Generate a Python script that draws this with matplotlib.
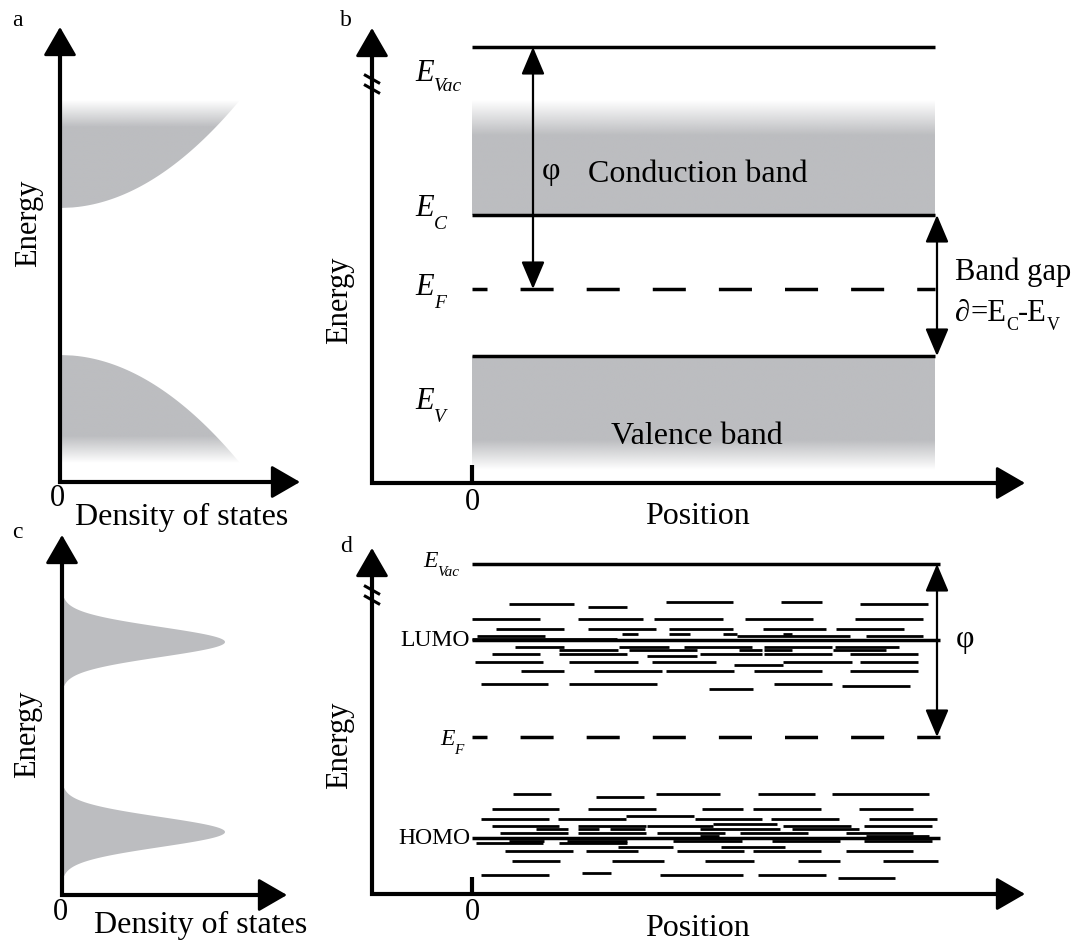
import numpy as np
import matplotlib
matplotlib.use('Agg')
import matplotlib.pyplot as plt
from matplotlib.patches import Polygon
from matplotlib.collections import LineCollection
from matplotlib.colors import to_rgb

plt.rcParams['font.family'] = ['Liberation Serif', 'DejaVu Serif']
plt.rcParams['lines.scale_dashes'] = False

W, H = 1080, 943
GRAY = '#bcbdc0'

# ---------------- data (energy / position in arbitrary units) ----------------
# a: band-like density of states (sqrt model)
cb_edge, cb_top = 2.74, 3.82
vb_edge, vb_bottom = 1.27, 0.19
dos_max = 1.80
dos_fade = 0.27

# b: band diagram levels
b_names = ['Vac', 'C', 'F', 'V']
b_energy = [4.36, 2.68, 1.94, 1.27]
band_right = 4.63
cb_fill_top, cb_fill_fade = 3.83, 3.48
vb_fill_bottom, vb_fill_fade = 0.13, 0.43
phi_x_b = 0.61
gap_x = 4.65

# c: gaussian density of states
gauss_centers = [2.53, 0.63]
gauss_peak = 1.63
gauss_sigma = 0.15
gauss_cut = 0.44

# d: organic levels
d_names = ['Vac', 'LUMO', 'F', 'HOMO']
d_energy = [3.30, 2.54, 1.57, 0.56]
level_right = 4.68
phi_x_d = 4.65

# localized states around LUMO: (offset from LUMO, [(x0, x1), ...])
lumo_states = [
    (0.38, [(1.94, 2.61), (3.09, 3.50)]),
    (0.36, [(0.37, 1.02), (3.88, 4.56)]),
    (0.33, [(1.16, 1.55)]),
    (0.21, [(0.00, 0.68), (1.06, 1.71), (1.82, 2.51), (2.73, 3.41), (3.83, 4.51)]),
    (0.11, [(0.24, 0.92), (1.16, 1.84), (1.97, 2.61), (2.91, 3.54), (3.64, 4.32)]),
    (0.06, [(1.50, 1.66), (1.97, 2.18), (2.51, 2.65), (3.11, 3.20)]),
    (0.04, [(0.05, 0.73), (2.65, 3.78), (3.94, 4.51)]),
    (0.01, [(0.00, 1.45)]),
    (-0.07, [(0.43, 0.92), (1.47, 1.97), (2.12, 2.80), (2.92, 3.60), (3.63, 4.27)]),
    (-0.10, [(0.87, 1.46), (1.57, 2.25), (2.67, 2.90), (2.92, 3.20), (3.61, 4.14)]),
    (-0.14, [(0.20, 0.68), (0.87, 1.55), (2.28, 2.90), (2.92, 3.60), (3.78, 4.46)]),
    (-0.16, [(1.75, 2.25)]),
    (-0.22, [(0.03, 0.71), (0.97, 1.66), (1.80, 2.44), (3.11, 3.80), (3.88, 4.46)]),
    (-0.25, [(2.62, 3.11)]),
    (-0.31, [(0.49, 0.92), (1.22, 1.90), (1.94, 2.62), (2.82, 3.50), (3.78, 4.46)]),
    (-0.44, [(0.09, 0.76), (0.97, 1.85), (3.02, 3.60)]),
    (-0.46, [(3.70, 4.38)]),
    (-0.49, [(2.37, 2.81)]),
]

# localized states around HOMO
homo_states = [
    (0.44, [(0.41, 0.79), (1.84, 2.48), (2.86, 3.43), (3.60, 4.57)]),
    (0.41, [(1.24, 1.72)]),
    (0.29, [(0.20, 0.87), (1.16, 1.84), (2.30, 2.71), (2.81, 3.49), (3.87, 4.41)]),
    (0.22, [(1.54, 2.22)]),
    (0.19, [(0.09, 0.77), (0.86, 1.54), (2.23, 2.90), (2.99, 3.67), (3.97, 4.65)]),
    (0.14, [(2.41, 3.05)]),
    (0.12, [(0.20, 0.87), (1.06, 1.74), (1.75, 2.41), (3.11, 3.79), (3.92, 4.60)]),
    (0.09, [(0.64, 0.96), (1.06, 1.27), (1.38, 1.73), (2.28, 3.08), (3.20, 3.87)]),
    (0.05, [(0.28, 0.96), (1.06, 1.74), (1.85, 2.53), (2.68, 3.36), (3.74, 4.41)]),
    (0.02, [(2.28, 2.47), (3.94, 4.57)]),
    (0.00, [(3.20, 3.88)]),
    (-0.03, [(0.37, 0.72), (0.95, 1.55), (2.01, 2.70), (3.00, 3.68), (3.92, 4.60)]),
    (-0.05, [(0.04, 0.71), (0.87, 1.55)]),
    (-0.09, [(1.46, 2.01), (2.49, 3.13)]),
    (-0.13, [(0.33, 1.01), (1.14, 1.66), (2.05, 2.72), (2.81, 3.49), (3.74, 4.41)]),
    (-0.23, [(0.40, 0.88), (1.40, 1.92), (2.33, 2.82), (3.26, 3.68), (4.11, 4.66)]),
    (-0.35, [(1.10, 1.39)]),
    (-0.37, [(0.09, 0.77), (1.88, 2.71), (2.86, 3.54)]),
    (-0.40, [(3.66, 4.23)]),
]

# ---------------- helpers ----------------
fig = plt.figure(figsize=(W / 100, H / 100), dpi=100)
renderer = fig.canvas.get_renderer()


def panel(ox, oy):
    # full-figure axes, 1 unit = 100 px, origin at pixel (ox, oy)
    ax = fig.add_axes([0, 0, 1, 1])
    ax.set_xlim(-ox / 100, (W - ox) / 100)
    ax.set_ylim((oy - H) / 100, oy / 100)
    ax.axis('off')
    ax.patch.set_alpha(0)
    return ax


def frame(ax, x0, ytop, xtip):
    ax.plot([x0, x0, xtip - 0.2], [ytop - 0.2, 0, 0], color='k', lw=3,
            solid_joinstyle='miter', solid_capstyle='butt')
    head = dict(arrowstyle='-|>,head_length=0.9,head_width=0.52',
                mutation_scale=20, lw=2, color='k', shrinkA=0, shrinkB=0)
    ax.annotate('', xy=(x0, ytop), xytext=(x0, ytop - 0.4), arrowprops=head)
    ax.annotate('', xy=(xtip, 0), xytext=(xtip - 0.4, 0), arrowprops=head)


def axis_break(ax, x, y):
    for dy in (0.05, -0.05):
        ax.plot([x - 0.08, x + 0.08], [y + dy + 0.045, y + dy - 0.045],
                color='k', lw=2.2, solid_capstyle='butt')


def double_arrow(ax, x, y0, y1):
    ax.annotate('', xy=(x, y1), xytext=(x, y0),
                arrowprops=dict(arrowstyle='<|-|>,head_length=0.85,head_width=0.36',
                                mutation_scale=20, lw=1.6, color='k',
                                shrinkA=0, shrinkB=0))


def faded_fill(ax, verts, y_solid, y_clear):
    verts = np.asarray(verts)
    poly = Polygon(verts, closed=True, facecolor='none', edgecolor='none')
    ax.add_patch(poly)
    ylo, yhi = verts[:, 1].min(), verts[:, 1].max()
    yy = np.linspace(ylo, yhi, 300)
    alpha = np.clip((yy - y_clear) / (y_solid - y_clear), 0, 1)
    rgba = np.zeros((300, 2, 4))
    rgba[..., :3] = to_rgb(GRAY)
    rgba[..., 3] = alpha[:, None]
    im = ax.imshow(rgba, extent=(verts[:, 0].min(), verts[:, 0].max(), ylo, yhi),
                   origin='lower', aspect='auto', interpolation='bilinear')
    im.set_clip_path(poly)


def run_text(ax, x, base, pieces):
    # lay out (text, size, drop, style) pieces one after another on a baseline
    for s, size, drop, style in pieces:
        t = ax.text(x, base - drop, s, fontsize=size, style=style,
                    ha='left', va='baseline')
        x += t.get_window_extent(renderer=renderer).width / 100


def level_label(ax, x, base, sub, size, subsize, drop):
    run_text(ax, x, base, [('E', size, 0, 'italic'), (sub, subsize, drop, 'italic')])


def ftext(x, y, s, **kw):
    fig.text(x / W, 1 - y / H, s, **kw)


DASH = (13, (23.8, 23.8))
BIG = 23

# ---------------- panel a ----------------
ax = panel(60, 482)
frame(ax, 0, 4.55, 2.40)
e_up = np.linspace(cb_edge, cb_top, 200)
w_up = dos_max * np.sqrt((e_up - cb_edge) / (cb_top - cb_edge))
faded_fill(ax, np.r_[np.c_[w_up, e_up], [[0, cb_top]]], cb_top - dos_fade, cb_top)
e_lo = np.linspace(vb_edge, vb_bottom, 200)
w_lo = dos_max * np.sqrt((vb_edge - e_lo) / (vb_edge - vb_bottom))
faded_fill(ax, np.r_[np.c_[w_lo, e_lo], [[0, vb_bottom]]], vb_bottom + dos_fade, vb_bottom)

# ---------------- panel b ----------------
ax = panel(472, 483)
frame(ax, -1.0, 4.55, 5.53)
axis_break(ax, -1.0, 3.99)
faded_fill(ax, [[0, b_energy[1]], [band_right, b_energy[1]],
                [band_right, cb_fill_top], [0, cb_fill_top]], cb_fill_fade, cb_fill_top)
faded_fill(ax, [[0, vb_fill_bottom], [band_right, vb_fill_bottom],
                [band_right, b_energy[3]], [0, b_energy[3]]], vb_fill_fade, vb_fill_bottom)
for name, e in zip(b_names, b_energy):
    if name == 'F':
        ax.plot([0, band_right], [e, e], color='k', lw=2.5, linestyle=DASH,
                dash_capstyle='butt')
    else:
        ax.plot([0, band_right], [e, e], color='k', lw=2.5, solid_capstyle='butt')
ax.plot([0, 0], [0, 0.18], color='k', lw=3, solid_capstyle='butt')
double_arrow(ax, phi_x_b, b_energy[2], b_energy[0])
double_arrow(ax, gap_x, b_energy[3], b_energy[1])
level_label(ax, -0.57, 4.02, 'Vac', 22, 14, 0.10)
level_label(ax, -0.57, 2.67, 'C', 22, 14, 0.13)
level_label(ax, -0.57, 1.88, 'F', 22, 14, 0.13)
level_label(ax, -0.57, 0.74, 'V', 22, 14, 0.13)
ax.text(0.79, 3.11, 'φ', fontsize=BIG, ha='center', va='center')
ax.text(2.26, 3.08, 'Conduction band', fontsize=BIG, ha='center', va='center')
ax.text(2.25, 0.46, 'Valence band', fontsize=BIG, ha='center', va='center')
ax.text(4.83, 2.11, 'Band gap', fontsize=22, ha='left', va='center')
run_text(ax, 4.83, 1.62, [('∂', 22, 0, 'italic'), ('=E', 22, 0, 'normal'),
                          ('C', 13, 0.09, 'normal'), ('-E', 22, 0, 'normal'),
                          ('V', 13, 0.09, 'normal')])

# ---------------- panel c ----------------
ax = panel(62, 895)
frame(ax, 0, 3.60, 2.25)
for c in gauss_centers:
    e = np.linspace(c - gauss_cut, c + gauss_cut, 300)
    w = gauss_peak * np.exp(-(e - c) ** 2 / (2 * gauss_sigma ** 2))
    ax.add_patch(Polygon(np.c_[np.r_[0, w, 0], np.r_[e[0], e, e[-1]]],
                         closed=True, facecolor=GRAY, edgecolor='none'))

# ---------------- panel d ----------------
ax = panel(472, 894)
frame(ax, -1.0, 3.46, 5.53)
axis_break(ax, -1.0, 2.99)
segs = []
for center, states in ((d_energy[1], lumo_states), (d_energy[3], homo_states)):
    for dy, spans in states:
        for x0, x1 in spans:
            segs.append([(x0, center + dy), (x1, center + dy)])
ax.add_collection(LineCollection(segs, colors='k', linewidths=2.0, capstyle='butt'))
for name, e in zip(d_names, d_energy):
    if name == 'F':
        ax.plot([0, level_right], [e, e], color='k', lw=2.5, linestyle=DASH,
                dash_capstyle='butt')
    else:
        ax.plot([0, level_right], [e, e], color='k', lw=2.5, solid_capstyle='butt')
ax.plot([0, 0], [0, 0.17], color='k', lw=3, solid_capstyle='butt')
double_arrow(ax, phi_x_d, d_energy[2], d_energy[0])
level_label(ax, -0.49, 3.27, 'Vac', 17, 11, 0.09)
level_label(ax, -0.32, 1.49, 'F', 17, 11, 0.09)
ax.text(-0.02, d_energy[1], 'LUMO', fontsize=17, ha='right', va='center')
ax.text(-0.02, d_energy[3], 'HOMO', fontsize=17, ha='right', va='center')
ax.text(4.93, 2.54, 'φ', fontsize=BIG, ha='center', va='center')

# ---------------- panel letters and axis titles ----------------
for s, x, y in (('a', 12, 20), ('b', 340, 20), ('c', 12, 532), ('d', 340, 547)):
    ftext(x, y, s, fontsize=17, ha='left', va='center')
for x, y in ((29, 223), (340, 300), (28, 734), (340, 745)):
    ftext(x, y, 'Energy', fontsize=22, rotation=90, ha='center', va='center')
for x, y in ((57, 499), (472, 502), (60, 913), (472, 912)):
    ftext(x, y, '0', fontsize=22, ha='center', va='center')
ftext(182, 517, 'Density of states', fontsize=BIG, ha='center', va='center')
ftext(201, 925, 'Density of states', fontsize=BIG, ha='center', va='center')
ftext(697, 517, 'Position', fontsize=BIG, ha='center', va='center')
ftext(697, 928, 'Position', fontsize=BIG, ha='center', va='center')

fig.savefig('out.png', dpi=100)
